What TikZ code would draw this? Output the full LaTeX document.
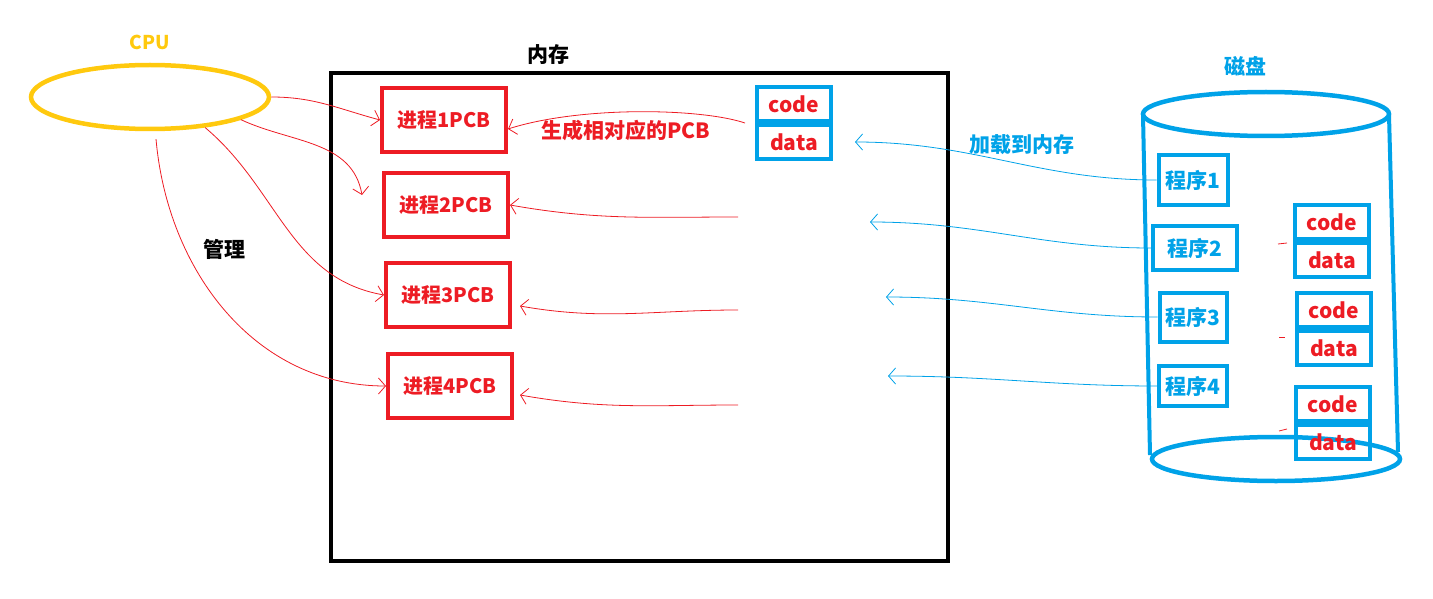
\documentclass[tikz,border=0pt]{standalone}
\usepackage{fontspec}
\setmainfont{Noto Sans CJK SC}
\usepackage{xcolor}
\usetikzlibrary{arrows.meta,shapes.geometric}
\definecolor{pcbred}{HTML}{ED1C24}
\definecolor{diskblue}{HTML}{00A2E8}
\definecolor{cpuyellow}{HTML}{FFC90E}
\newcommand{\lbl}[1]{\fontsize{#1}{#1}\selectfont\bfseries}
% code/data pair: name, x, y of the code cell
\newcommand{\codedata}[3]{
  \node[cdcell] (#1c) at (#2,#3) {code};
  \node[cdcell,anchor=north] (#1d) at (#1c.south) {data};
}
\tikzset{
  pcb/.style={draw=pcbred,line width=4pt,text=pcbred,minimum width=124pt,
    minimum height=64pt,inner sep=0pt,font=\lbl{20}},
  prog/.style={draw=diskblue,line width=4pt,text=diskblue,inner sep=0pt,
    font=\lbl{21}},
  cdcell/.style={draw=diskblue,line width=4pt,text=pcbred,minimum width=74pt,
    minimum height=34pt,inner sep=0pt,font=\lbl{21}},
  redarr/.style={draw=pcbred,line width=0.8pt,-{Straight Barb[length=7pt,width=16pt]}},
  bluearr/.style={draw=diskblue,line width=0.8pt,-{Straight Barb[length=7pt,width=16pt]}}
}
\begin{document}
\begin{tikzpicture}[x=1pt,y=-1pt]
  \useasboundingbox (0,0) rectangle (1433,599);
  % cpu
  \node[text=cpuyellow,font=\lbl{19}] (cputxt) at (150,42) {CPU};
  \node[draw=cpuyellow,line width=4.5pt,ellipse,minimum width=238pt,minimum height=64pt] (cpu) at (150,97) {};
  % memory
  \node[font=\lbl{21}] (memtxt) at (548,55) {内存};
  \draw[line width=4pt] (331,73) rectangle (948,561);
  \node[pcb] (P1) at (444,120) {进程1PCB};
  \node[pcb] (P2) at (446,205) {进程2PCB};
  \node[pcb] (P3) at (448,295) {进程3PCB};
  \node[pcb] (P4) at (450,386) {进程4PCB};
  \codedata{M}{794}{104}
  \node[text=pcbred,font=\lbl{21}] (gen) at (626,130) {生成相对应的PCB};
  \coordinate (m2) at (738,217);
  \coordinate (m3) at (738,310);
  \coordinate (m4) at (738,405);
  \coordinate (t2) at (870,222);
  \coordinate (t3) at (886,297);
  \coordinate (t4) at (888,376);
  % disk
  \node[text=diskblue,font=\lbl{21}] (disktxt) at (1245,66) {磁盘};
  \draw[diskblue,line width=4.5pt] (1266,114) ellipse (123pt and 22pt);
  \draw[diskblue,line width=4.5pt] (1276,459) ellipse (124pt and 22pt);
  \draw[diskblue,line width=4pt] (1143,115) -- (1150,455);
  \draw[diskblue,line width=4pt] (1389,115) -- (1398,452);
  \node[prog,minimum width=69pt,minimum height=50pt] (D1) at (1193,180) {程序1};
  \node[prog,minimum width=84pt,minimum height=44pt] (D2) at (1195,248) {程序2};
  \node[prog,minimum width=67pt,minimum height=49pt] (D3) at (1193,317) {程序3};
  \node[prog,minimum width=68pt,minimum height=40pt] (D4) at (1193,386) {程序4};
  \codedata{A}{1332}{222}
  \codedata{B}{1334}{310}
  \codedata{C}{1333}{404}
  \draw[pcbred,line width=0.8pt] (1278,244) -- (1287,243);
  \draw[pcbred,line width=0.8pt] (1279,337) -- (1285,337);
  \draw[pcbred,line width=0.8pt] (1279,431) -- (1287,429);
  % cpu manages the pcbs
  \draw[redarr] (cpu.east) to[out=0,in=165] (P1.west);
  \draw[redarr] (cpu.-14) to[out=-25,in=100] ([xshift=-20pt,yshift=10pt]P2.west);
  \draw[redarr] (cpu.-29) to[out=-40,in=170] (P3.west);
  \draw[redarr] ([yshift=-8pt]cpu.-80) to[out=-85,in=180] (P4.west);
  \node[font=\lbl{21}] (mgr) at (224,249) {管理};
  % pcbs made from loaded programs
  \draw[redarr] ([xshift=-10pt]Mc.south west) .. controls (700,108) and (580,106) .. ([yshift=-9pt]P1.east);
  \draw[redarr] (m2) to[out=180,in=-10] (P2.east);
  \draw[redarr] (m3) to[out=180,in=-10] ([xshift=8pt,yshift=-11pt]P3.east);
  \draw[redarr] (m4) to[out=180,in=-10] ([xshift=6pt,yshift=-9pt]P4.east);
  % loading into memory
  \draw[bluearr] (D1.west) to[out=180,in=0] ([xshift=22pt]Md.east);
  \draw[bluearr] (D2.west) to[out=180,in=0] (t2);
  \draw[bluearr] (D3.west) to[out=180,in=0] (t3);
  \draw[bluearr] (D4.west) to[out=180,in=0] (t4);
  \node[text=diskblue,font=\lbl{21}] (load) at (1022,145) {加载到内存};
\end{tikzpicture}
\end{document}
